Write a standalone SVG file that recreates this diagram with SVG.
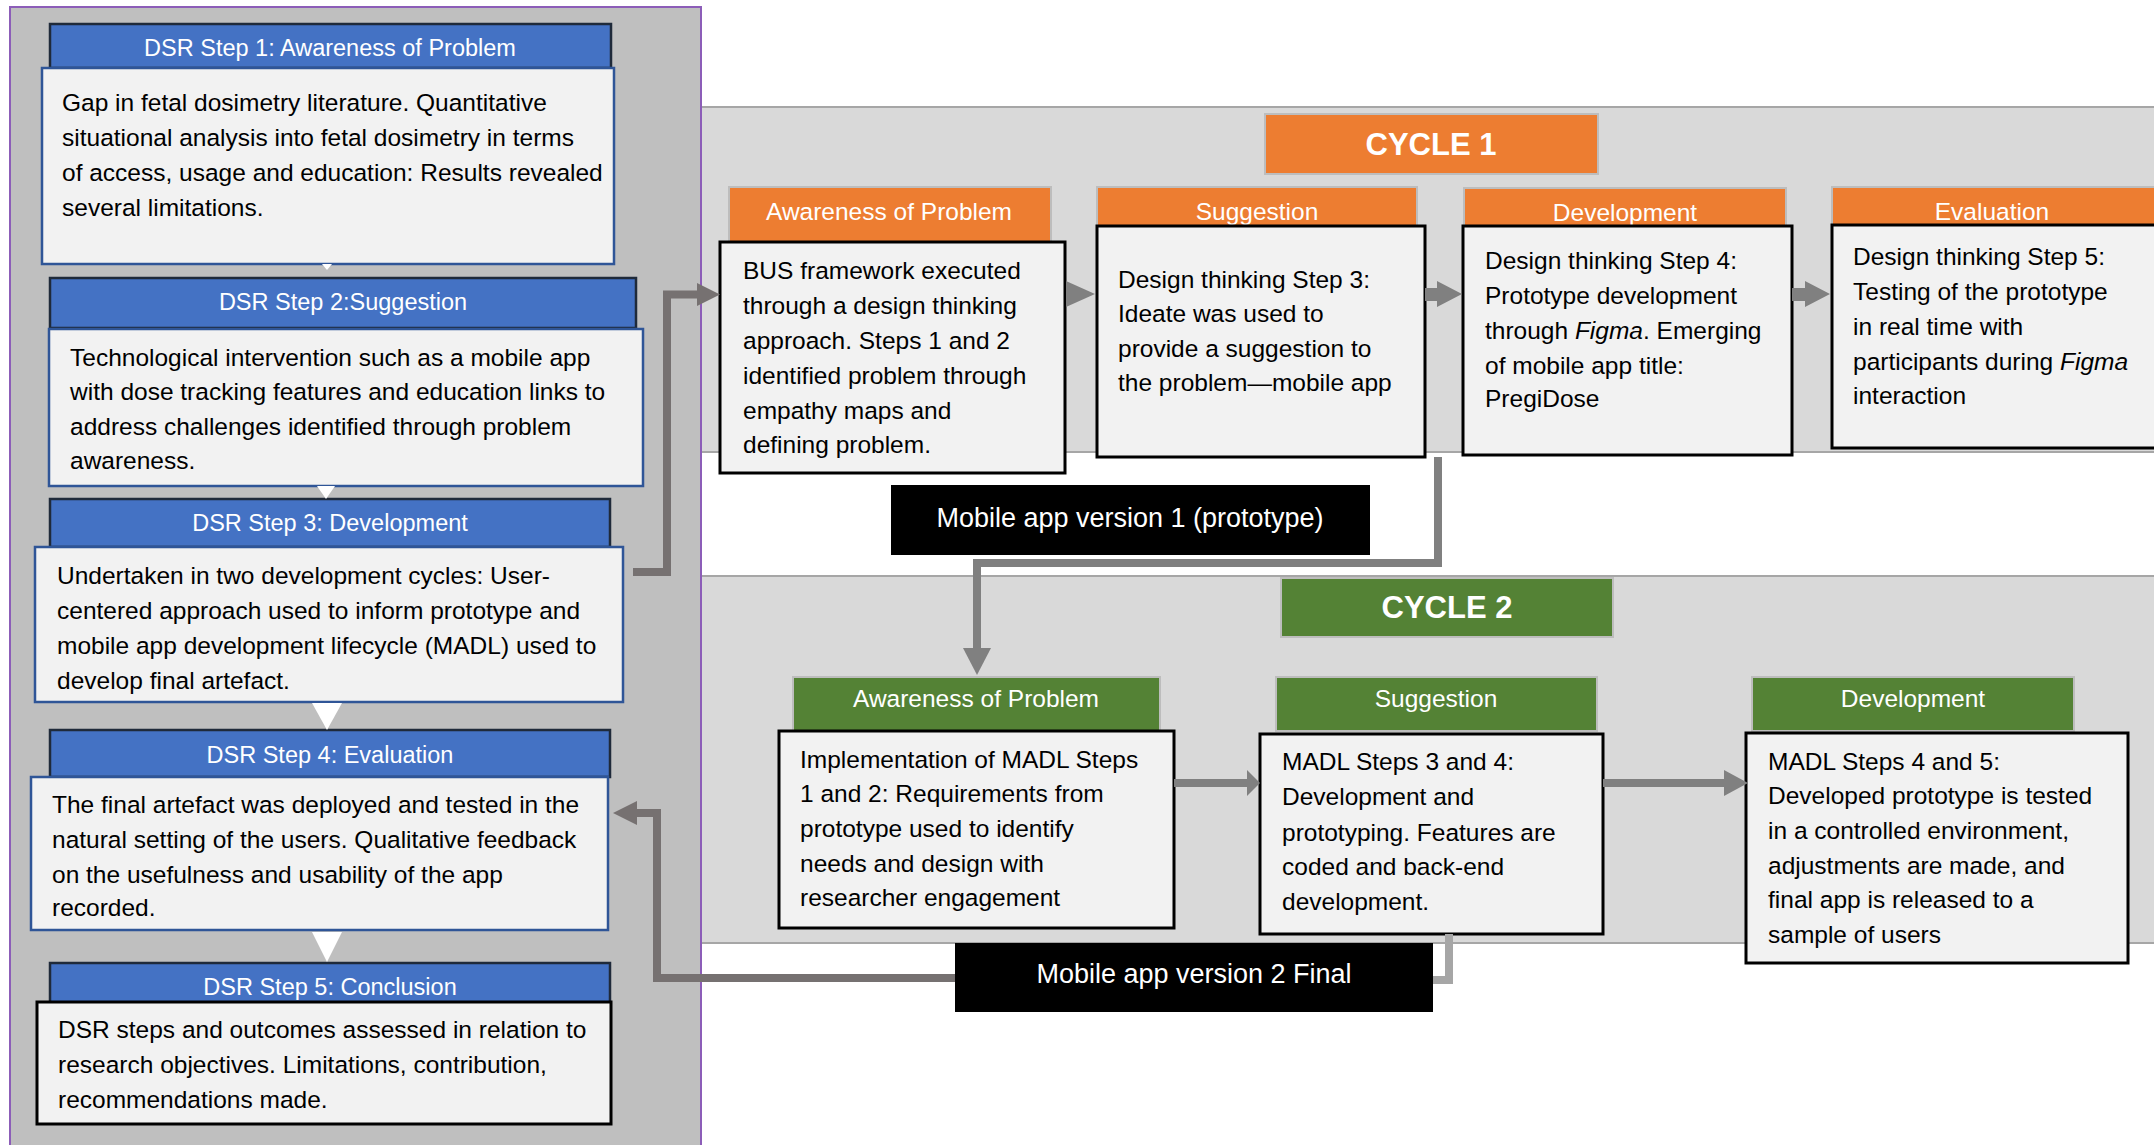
<svg xmlns="http://www.w3.org/2000/svg" width="2154" height="1145" viewBox="0 0 2154 1145">
<style>
text{font-family:"Liberation Sans",Arial,sans-serif;}
.bg{fill:#FFFFFF;}
.panel{fill:#BFBFBF;stroke:#8C5DB8;stroke-width:2;}
.band{fill:#D9D9D9;stroke:#A6A6A6;stroke-width:2;}
.bh{fill:#4472C4;stroke:#1F2A3A;stroke-width:2.5;}
.bb{fill:#F2F2F2;stroke:#2F5597;stroke-width:2.5;}
.kb{fill:#F2F2F2;stroke:#000000;stroke-width:3;}
.oh{fill:#ED7D31;stroke:#BDBDBD;stroke-width:2;}
.gh{fill:#548235;stroke:#BDBDBD;stroke-width:2;}
.ht{fill:#FFFFFF;font-size:23.5px;text-anchor:middle;}
.ch{fill:#FFFFFF;font-size:24.5px;text-anchor:middle;}
.cy{fill:#FFFFFF;font-size:31px;font-weight:bold;text-anchor:middle;}
.tx{fill:#000000;font-size:24.5px;}
.blk{fill:#000000;}
.bt{fill:#FFFFFF;font-size:27px;text-anchor:middle;}
.wa{fill:#FFFFFF;}
.dk{fill:none;stroke:#767171;stroke-width:8;}
.lg{fill:none;stroke:#808080;stroke-width:8;}
.lt{fill:none;stroke:#A6A6A6;stroke-width:8;}
.dkf{fill:#767171;}
.lgf{fill:#808080;}
</style>
<rect class="bg" x="0" y="0" width="2154" height="1145"/>
<g id="cycle1-band"><rect class="band" x="701" y="107" width="1460" height="345"/></g>
<g id="cycle2-band"><rect class="band" x="701" y="576" width="1460" height="367"/></g>
<g id="dsr-panel"><rect class="panel" x="10" y="7" width="691" height="1150"/></g>

<g id="dsr-step1">
<rect class="bh" x="50" y="24" width="561" height="44"/>
<text class="ht" x="330" y="56">DSR Step 1: Awareness of Problem</text>
<rect class="bb" x="42" y="68" width="572" height="196"/>
<text class="tx" x="62" y="111">Gap in fetal dosimetry literature. Quantitative</text>
<text class="tx" x="62" y="146">situational analysis into fetal dosimetry in terms</text>
<text class="tx" x="62" y="181">of access, usage and education: Results revealed</text>
<text class="tx" x="62" y="216">several limitations.</text>
</g>
<g id="dsr-step2">
<rect class="bh" x="50" y="278" width="586" height="50"/>
<text class="ht" x="343" y="310">DSR Step 2:Suggestion</text>
<rect class="bb" x="49" y="329" width="594" height="157"/>
<text class="tx" x="70" y="366">Technological intervention such as a mobile app</text>
<text class="tx" x="70" y="400">with dose tracking features and education links to</text>
<text class="tx" x="70" y="435">address challenges identified through problem</text>
<text class="tx" x="70" y="469">awareness.</text>
</g>
<g id="dsr-step3">
<rect class="bh" x="50" y="499" width="560" height="48"/>
<text class="ht" x="330" y="531">DSR Step 3: Development</text>
<rect class="bb" x="35" y="547" width="588" height="155"/>
<text class="tx" x="57" y="584">Undertaken in two development cycles: User-</text>
<text class="tx" x="57" y="619">centered approach used to inform prototype and</text>
<text class="tx" x="57" y="654">mobile app development lifecycle (MADL) used to</text>
<text class="tx" x="57" y="689">develop final artefact.</text>
</g>
<g id="dsr-step4">
<rect class="bh" x="50" y="730" width="560" height="47"/>
<text class="ht" x="330" y="763">DSR Step 4: Evaluation</text>
<rect class="bb" x="31" y="777" width="577" height="153"/>
<text class="tx" x="52" y="813">The final artefact was deployed and tested in the</text>
<text class="tx" x="52" y="848">natural setting of the users. Qualitative feedback</text>
<text class="tx" x="52" y="883">on the usefulness and usability of the app</text>
<text class="tx" x="52" y="916">recorded.</text>
</g>
<g id="dsr-step5">
<rect class="bh" x="50" y="963" width="560" height="40"/>
<text class="ht" x="330" y="995">DSR Step 5: Conclusion</text>
<rect class="kb" x="37" y="1002" width="574" height="122"/>
<text class="tx" x="58" y="1038">DSR steps and outcomes assessed in relation to</text>
<text class="tx" x="58" y="1073">research objectives. Limitations, contribution,</text>
<text class="tx" x="58" y="1108">recommendations made.</text>
</g>

<g id="cycle1-label">
<rect class="oh" x="1265" y="114" width="333" height="60"/>
<text class="cy" x="1431" y="155">CYCLE 1</text>
</g>
<g id="c1-awareness">
<rect class="oh" x="729" y="187" width="322" height="55"/>
<text class="ch" x="889" y="220">Awareness of Problem</text>
<rect class="kb" x="720" y="242" width="345" height="231"/>
<text class="tx" x="743" y="279">BUS framework executed</text>
<text class="tx" x="743" y="314">through a design thinking</text>
<text class="tx" x="743" y="349">approach. Steps 1 and 2</text>
<text class="tx" x="743" y="384">identified problem through</text>
<text class="tx" x="743" y="419">empathy maps and</text>
<text class="tx" x="743" y="453">defining problem.</text>
</g>
<g id="c1-suggestion">
<rect class="oh" x="1097" y="187" width="320" height="39"/>
<text class="ch" x="1257" y="220">Suggestion</text>
<rect class="kb" x="1097" y="226" width="328" height="231"/>
<text class="tx" x="1118" y="288">Design thinking Step 3:</text>
<text class="tx" x="1118" y="322">Ideate was used to</text>
<text class="tx" x="1118" y="357">provide a suggestion to</text>
<text class="tx" x="1118" y="391">the problem—mobile app</text>
</g>
<g id="c1-development">
<rect class="oh" x="1464" y="188" width="322" height="38"/>
<text class="ch" x="1625" y="221">Development</text>
<rect class="kb" x="1463" y="226" width="329" height="229"/>
<text class="tx" x="1485" y="269">Design thinking Step 4:</text>
<text class="tx" x="1485" y="304">Prototype development</text>
<text class="tx" x="1485" y="339">through <tspan font-style="italic">Figma</tspan>. Emerging</text>
<text class="tx" x="1485" y="374">of mobile app title:</text>
<text class="tx" x="1485" y="407">PregiDose</text>
</g>
<g id="c1-evaluation">
<rect class="oh" x="1832" y="187" width="330" height="38"/>
<text class="ch" x="1992" y="220">Evaluation</text>
<rect class="kb" x="1832" y="225" width="330" height="223"/>
<text class="tx" x="1853" y="265">Design thinking Step 5:</text>
<text class="tx" x="1853" y="300">Testing of the prototype</text>
<text class="tx" x="1853" y="335">in real time with</text>
<text class="tx" x="1853" y="370">participants during <tspan font-style="italic">Figma</tspan></text>
<text class="tx" x="1853" y="404">interaction</text>
</g>
<g id="mobile-v1">
<rect class="blk" x="891" y="485" width="479" height="70"/>
<text class="bt" x="1130" y="527">Mobile app version 1 (prototype)</text>
</g>

<g id="cycle2-label">
<rect class="gh" x="1281" y="578" width="332" height="59"/>
<text class="cy" x="1447" y="618">CYCLE 2</text>
</g>
<g id="c2-awareness">
<rect class="gh" x="793" y="677" width="367" height="54"/>
<text class="ch" x="976" y="707">Awareness of Problem</text>
<rect class="kb" x="779" y="731" width="395" height="197"/>
<text class="tx" x="800" y="768">Implementation of MADL Steps</text>
<text class="tx" x="800" y="802">1 and 2: Requirements from</text>
<text class="tx" x="800" y="837">prototype used to identify</text>
<text class="tx" x="800" y="872">needs and design with</text>
<text class="tx" x="800" y="906">researcher engagement</text>
</g>
<g id="c2-suggestion">
<rect class="gh" x="1276" y="677" width="321" height="54"/>
<text class="ch" x="1436" y="707">Suggestion</text>
<rect class="kb" x="1260" y="734" width="343" height="200"/>
<text class="tx" x="1282" y="770">MADL Steps 3 and 4:</text>
<text class="tx" x="1282" y="805">Development and</text>
<text class="tx" x="1282" y="841">prototyping. Features are</text>
<text class="tx" x="1282" y="875">coded and back-end</text>
<text class="tx" x="1282" y="910">development.</text>
</g>
<g id="c2-development">
<rect class="gh" x="1752" y="677" width="322" height="54"/>
<text class="ch" x="1913" y="707">Development</text>
<rect class="kb" x="1746" y="733" width="382" height="230"/>
<text class="tx" x="1768" y="770">MADL Steps 4 and 5:</text>
<text class="tx" x="1768" y="804">Developed prototype is tested</text>
<text class="tx" x="1768" y="839">in a controlled environment,</text>
<text class="tx" x="1768" y="874">adjustments are made, and</text>
<text class="tx" x="1768" y="908">final app is released to a</text>
<text class="tx" x="1768" y="943">sample of users</text>
</g>
<g id="mobile-v2">
<rect class="blk" x="955" y="943" width="478" height="69"/>
<text class="bt" x="1194" y="983">Mobile app version 2 Final</text>
</g>

<g id="connectors">
<polygon class="wa" points="322,264 332,264 327,270"/>
<polygon class="wa" points="317,486 335,486 326,499"/>
<polygon class="wa" points="312,703 342,703 327,730"/>
<polygon class="wa" points="312,932 342,932 327,962"/>
<path class="dk" d="M633 572 H667 V294.5 H698"/>
<polygon class="dkf" points="697,283 720,294.5 697,306"/>
<polygon class="lgf" points="1066,281 1095,294 1066,307"/>
<polygon class="lgf" points="1425,288 1437,288 1437,281 1462,294 1437,307 1437,301 1425,301"/>
<polygon class="lgf" points="1792,288 1805,288 1805,281 1830,294 1805,307 1805,301 1792,301"/>
<path class="lg" d="M1438 457 V563 H977 V650"/>
<polygon class="lgf" points="963,648 991,648 977,675"/>
<path class="lg" d="M1174 783 H1248"/>
<polygon class="lgf" points="1247,770 1260,783 1247,796"/>
<path class="lg" d="M1603 783 H1725"/>
<polygon class="lgf" points="1724,770 1748,783 1724,796"/>
<path class="lt" d="M1449 934 V980 H1433"/>
<path class="dk" d="M955 978 H657 V813 H636"/>
<polygon class="dkf" points="637,801 613,813 637,825"/>
</g>
</svg>
